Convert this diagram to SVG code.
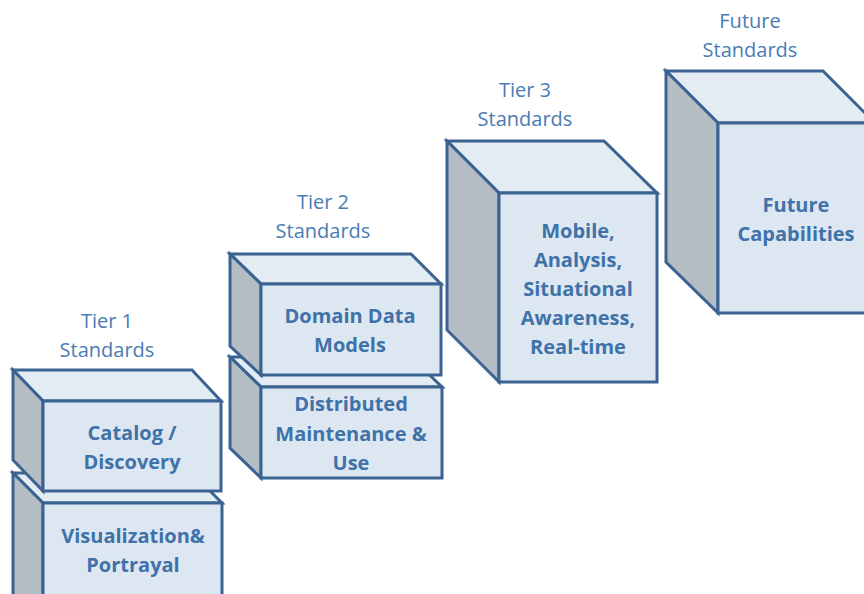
<svg xmlns="http://www.w3.org/2000/svg" width="864" height="594" viewBox="0 0 864 594">
<style>
.top{fill:#e3ebf3;stroke:#3b6392;stroke-width:3;stroke-linejoin:miter}
.side{fill:#b4bcc4;stroke:#3b6392;stroke-width:3}
.front{fill:#dde7f1;stroke:#3b6392;stroke-width:3}
.lbl{font-family:"Open Sans","Liberation Sans",sans-serif;font-size:20px;fill:#4a7cb3;text-anchor:middle}
.bl{font-family:"Open Sans","Liberation Sans",sans-serif;font-size:20px;font-weight:bold;fill:#3f72a9;text-anchor:middle}
</style>
<rect width="864" height="594" fill="#ffffff"/>
<g id="tier1-label"><text class="lbl" x="107" y="328">Tier 1</text><text class="lbl" x="107" y="357">Standards</text></g>
<g id="tier2-label"><text class="lbl" x="323" y="209">Tier 2</text><text class="lbl" x="323" y="238">Standards</text></g>
<g id="tier3-label"><text class="lbl" x="525" y="97">Tier 3</text><text class="lbl" x="525" y="126">Standards</text></g>
<g id="future-label"><text class="lbl" x="750" y="28">Future</text><text class="lbl" x="750" y="57">Standards</text></g>

<g id="visualization">
<polygon class="top" points="13,473 192,473 222,503 43,503"/>
<polygon class="side" points="13,473 43,503 43,600 13,600"/>
<rect class="front" x="43" y="503" width="179" height="100"/>
<text class="bl" x="133" y="543">Visualization&amp;</text>
<text class="bl" x="133" y="572">Portrayal</text>
</g>
<g id="catalog">
<polygon class="top" points="13,370 192,370 221,401 43,401"/>
<polygon class="side" points="13,370 43,401 43,491 13,460"/>
<rect class="front" x="43" y="401" width="178" height="90"/>
<text class="bl" x="132" y="440">Catalog /</text>
<text class="bl" x="132" y="469">Discovery</text>
</g>

<g id="distributed">
<polygon class="top" points="230,357 411,357 442,387 261,387"/>
<polygon class="side" points="230,357 261,387 261,478 230,448"/>
<rect class="front" x="261" y="387" width="181" height="91"/>
<text class="bl" x="351" y="411">Distributed</text>
<text class="bl" x="351" y="441">Maintenance &amp;</text>
<text class="bl" x="351" y="470">Use</text>
</g>
<g id="domain">
<polygon class="top" points="230,254 411,254 441,284 261,284"/>
<polygon class="side" points="230,254 261,284 261,375 230,346"/>
<rect class="front" x="261" y="284" width="180" height="91"/>
<text class="bl" x="350" y="323">Domain Data</text>
<text class="bl" x="350" y="352">Models</text>
</g>

<g id="tier3">
<polygon class="top" points="447,141 604,141 657,193 499,193"/>
<polygon class="side" points="447,141 499,193 499,382 447,330"/>
<rect class="front" x="499" y="193" width="158" height="189"/>
<text class="bl" x="578" y="238">Mobile,</text>
<text class="bl" x="578" y="267">Analysis,</text>
<text class="bl" x="578" y="296">Situational</text>
<text class="bl" x="578" y="325">Awareness,</text>
<text class="bl" x="578" y="354">Real-time</text>
</g>

<g id="future">
<polygon class="top" points="666,71 823,71 875,123 718,123"/>
<polygon class="side" points="666,71 718,123 718,313 666,262"/>
<rect class="front" x="718" y="123" width="160" height="190"/>
<text class="bl" x="796" y="212">Future</text>
<text class="bl" x="796" y="241">Capabilities</text>
</g>
<g id="connectors"/>
</svg>
